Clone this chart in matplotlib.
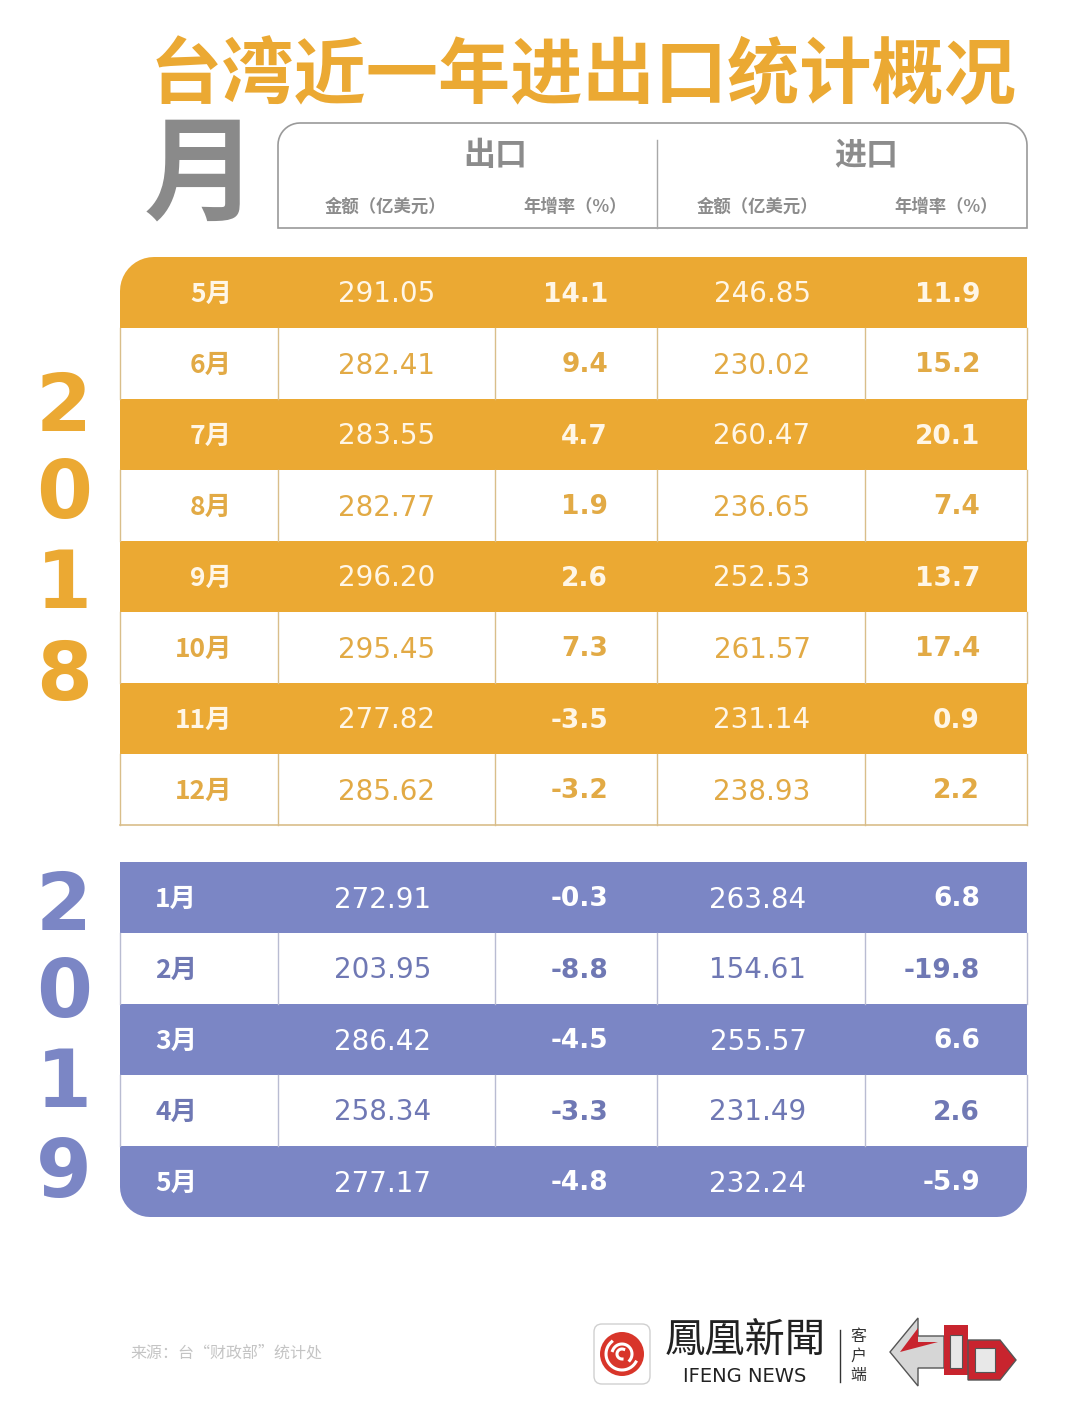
import numpy as np
import matplotlib.pyplot as plt
from matplotlib.patches import PathPatch, Rectangle, FancyBboxPatch, Circle, Polygon
from matplotlib.path import Path

plt.rcParams['font.family'] = ['Noto Sans CJK SC', 'DejaVu Sans']

# data
months_2018 = ['5月', '6月', '7月', '8月', '9月', '10月', '11月', '12月']
export_2018 = [291.05, 282.41, 283.55, 282.77, 296.20, 295.45, 277.82, 285.62]
export_rate_2018 = [14.1, 9.4, 4.7, 1.9, 2.6, 7.3, -3.5, -3.2]
import_2018 = [246.85, 230.02, 260.47, 236.65, 252.53, 261.57, 231.14, 238.93]
import_rate_2018 = [11.9, 15.2, 20.1, 7.4, 13.7, 17.4, 0.9, 2.2]

months_2019 = ['1月', '2月', '3月', '4月', '5月']
export_2019 = [272.91, 203.95, 286.42, 258.34, 277.17]
export_rate_2019 = [-0.3, -8.8, -4.5, -3.3, -4.8]
import_2019 = [263.84, 154.61, 255.57, 231.49, 232.24]
import_rate_2019 = [6.8, -19.8, 6.6, 2.6, -5.9]

title = '台湾近一年进出口统计概况'
source = '来源：台“财政部”统计处'

ORANGE = '#EBA933'
ORANGE_TXT = '#E2AA45'
BLUE = '#7B86C5'
BLUE_TXT = '#6F78B4'
GRAY = '#8C8C8C'

W, H = 1080, 1418
fig = plt.figure(figsize=(W / 100, H / 100), dpi=100)
ax = fig.add_axes([0, 0, 1, 1])
ax.set_xlim(0, W)
ax.set_ylim(H, 0)
ax.axis('off')


def corner_rect(x0, y0, x1, y1, tl=0, tr=0, br=0, bl=0):
    # rectangle in pixel coords (y down) with its own radius per corner
    pts = []

    def arc(cx, cy, r, a0, a1):
        t = np.linspace(np.radians(a0), np.radians(a1), 12)
        return list(zip(cx + r * np.cos(t), cy + r * np.sin(t)))
    pts += arc(x0 + tl, y0 + tl, tl, 180, 270) if tl else [(x0, y0)]
    pts += arc(x1 - tr, y0 + tr, tr, 270, 360) if tr else [(x1, y0)]
    pts += arc(x1 - br, y1 - br, br, 0, 90) if br else [(x1, y1)]
    pts += arc(x0 + bl, y1 - bl, bl, 90, 180) if bl else [(x0, y1)]
    pts.append(pts[0])
    codes = [Path.MOVETO] + [Path.LINETO] * (len(pts) - 2) + [Path.CLOSEPOLY]
    return Path(pts, codes)


# title
ax.text(583, 77, title, color=ORANGE, fontsize=52, fontweight='bold',
        ha='center', va='center')

# big 月
ax.text(201, 177, '月', color='#8A8A8A', fontsize=82, fontweight='bold',
        ha='center', va='center')

# header box
ax.add_patch(PathPatch(corner_rect(278, 123, 1027, 228, tl=22, tr=22),
                       facecolor='white', edgecolor='#9A9A9A', lw=1.2))
ax.plot([657, 657], [140, 228], color='#A8A8A8', lw=1)
ax.text(495, 156, '出口', color=GRAY, fontsize=23, fontweight='bold', ha='center', va='center')
ax.text(866, 156, '进口', color=GRAY, fontsize=23, fontweight='bold', ha='center', va='center')
for cx, lab in [(385, '金额（亿美元）'), (575, '年增率（%）'),
                (757, '金额（亿美元）'), (946, '年增率（%）')]:
    ax.text(cx, 207, lab, color=GRAY, fontsize=12.5, fontweight='bold',
            ha='center', va='center')

cols = [120, 278, 495, 657, 865, 1027]
row_h = 71


def draw_block(top, months, exp, exp_r, imp, imp_r, fill, txt_on, txt_off,
               line_c, first_round, last_round, month_x, month_ha, amt_dx):
    n = len(months)
    for i in range(n):
        y0 = top + i * row_h
        y1 = y0 + row_h
        yc = (y0 + y1) / 2 + 2
        filled = (i % 2 == 0)
        if filled:
            tl = 34 if (i == 0 and first_round) else 0
            bb = 30 if (i == n - 1 and last_round) else 0
            ax.add_patch(PathPatch(corner_rect(cols[0], y0, cols[-1], y1, tl=tl, br=bb, bl=bb),
                                   facecolor=fill, edgecolor='none'))
            c = txt_on
        else:
            ax.add_patch(Rectangle((cols[0], y0), cols[-1] - cols[0], row_h,
                                   facecolor='white', edgecolor='none'))
            for x in cols:
                ax.plot([x, x], [y0, y1], color=line_c, lw=1)
            if i == n - 1:
                ax.plot([cols[0], cols[-1]], [y1, y1], color=line_c, lw=1.2)
            c = txt_off
        ax.text(month_x, yc, months[i], color=c, fontsize=19, fontweight='bold',
                ha=month_ha, va='center')
        ax.text(387 + amt_dx, yc, '%.2f' % exp[i], color=c, fontsize=20,
                family='DejaVu Sans', ha='center', va='center')
        ax.text(608, yc, '%.1f' % exp_r[i], color=c, fontsize=19, fontweight='bold',
                family='DejaVu Sans', ha='right', va='center')
        ax.text(762 + amt_dx, yc, '%.2f' % imp[i], color=c, fontsize=20,
                family='DejaVu Sans', ha='center', va='center')
        ax.text(980, yc, '%.1f' % imp_r[i], color=c, fontsize=19, fontweight='bold',
                family='DejaVu Sans', ha='right', va='center')


draw_block(257, months_2018, export_2018, export_rate_2018, import_2018, import_rate_2018,
           ORANGE, '#FFF6E6', ORANGE_TXT, '#D9BE8A', True, False, 232, 'right', 0)
draw_block(862, months_2019, export_2019, export_rate_2019, import_2019, import_rate_2019,
           BLUE, 'white', BLUE_TXT, '#B9BCD2', False, True, 155, 'left', -4)

# vertical years
for year, ys, col in [('2018', [409, 496, 586, 678], ORANGE),
                      ('2019', [908, 995, 1085, 1175], BLUE)]:
    for d, y in zip(year, ys):
        ax.text(64, y, d, color=col, fontsize=58, fontweight='bold',
                family='DejaVu Sans', ha='center', va='center')

# footer
ax.text(130, 1353, source, color='#C4C4C4', fontsize=11.5, ha='left', va='center')

ax.add_patch(FancyBboxPatch((594, 1324), 56, 60, boxstyle='round,pad=0,rounding_size=8',
                            facecolor='white', edgecolor='#D0D0D0', lw=1))
ax.add_patch(Circle((622, 1354), 22, facecolor='#D8352A', edgecolor='none'))
for r, a0 in [(16, 30), (10, 200), (5, 90)]:
    t = np.linspace(np.radians(a0), np.radians(a0 + 200), 30)
    ax.plot(622 + r * np.cos(t), 1354 + r * np.sin(t), color='white', lw=2.2)
ax.text(745, 1340, '鳳凰新聞', color='#222222', fontsize=29,
        family=['Noto Sans CJK TC', 'DejaVu Sans'], ha='center', va='center')
ax.text(745, 1376, 'IFENG NEWS', color='#222222', fontsize=14, family='DejaVu Sans',
        ha='center', va='center')
ax.plot([840, 840], [1330, 1382], color='#333333', lw=1)
for k, ch in enumerate('客户端'):
    ax.text(858, 1337 + k * 19, ch, color='#333333', fontsize=11.5, ha='center', va='center')

# small red/grey mark on the right
ax.add_patch(Polygon([(890, 1352), (918, 1318), (918, 1336), (944, 1336), (944, 1368),
                      (918, 1368), (918, 1386)], closed=True, facecolor='#D6D6D6',
                     edgecolor='#555555', lw=1))
ax.add_patch(Polygon([(900, 1352), (918, 1328), (918, 1342), (938, 1342)], closed=True,
                     facecolor='#C8242E', edgecolor='none'))
ax.add_patch(Polygon([(944, 1325), (968, 1325), (968, 1375), (944, 1375)], closed=True,
                     facecolor='#C8242E', edgecolor='none'))
ax.add_patch(Polygon([(968, 1340), (1000, 1340), (1016, 1360), (1000, 1380), (968, 1380)],
                     closed=True, facecolor='#C8242E', edgecolor='#555555', lw=1))
ax.add_patch(Polygon([(950, 1335), (962, 1335), (962, 1368), (950, 1368)], closed=True,
                     facecolor='#E8E8E8', edgecolor='#555555', lw=0.8))
ax.add_patch(Polygon([(975, 1348), (995, 1348), (995, 1372), (975, 1372)], closed=True,
                     facecolor='#E8E8E8', edgecolor='#555555', lw=0.8))

fig.savefig('out.png', dpi=100, facecolor='white')
